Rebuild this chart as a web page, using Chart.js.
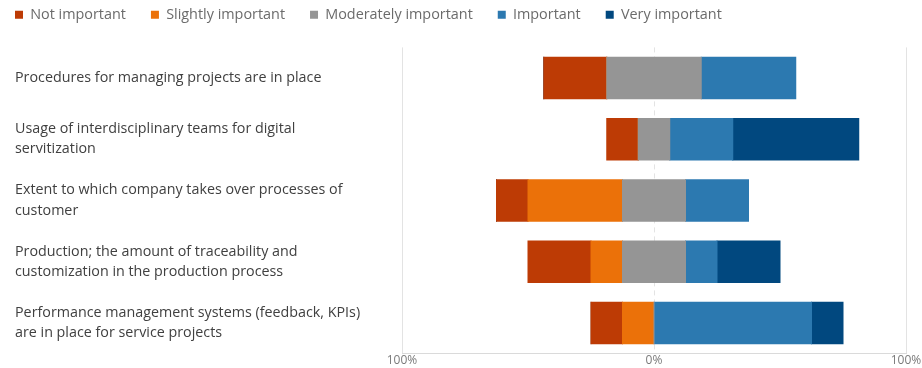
<!DOCTYPE html>
<html>
<head>
<meta charset="utf-8">
<script src="https://cdn.jsdelivr.net/npm/chart.js@4/dist/chart.umd.min.js"></script>
<style>
    body { margin: 0; background: #ffffff; }
    #wrap { width: 922px; height: 368px; position: relative; }
</style>
</head>
<body>
<div id="wrap"><canvas id="likert-chart"></canvas></div>
<script>
// Statements (y axis), wrapped as in the original
const statements = [
    ["Procedures for managing projects are in place"],
    ["Usage of interdisciplinary teams for digital", "servitization"],
    ["Extent to which company takes over processes of", "customer"],
    ["Production; the amount of traceability and", "customization in the production process"],
    ["Performance management systems (feedback, KPIs)", "are in place for service projects"]
];

// Share of answers per statement, in %
const notImportant = [25, 12.5, 12.5, 25, 12.5];
const slightlyImportant = [0, 0, 37.5, 12.5, 12.5];
const moderatelyImportant = [37.5, 12.5, 25, 25, 0];
const important = [37.5, 25, 25, 12.5, 62.5];
const veryImportant = [0, 50, 0, 25, 12.5];

const axisTicks = [-100, 0, 100];

const colors = {
    not: "#BD3B05",
    slightly: "#EB7109",
    moderately: "#959595",
    important: "#2C79B0",
    very: "#01487F"
};

document.addEventListener("DOMContentLoaded", function () {
    drawChart();
});

function drawChart() {
    // Negative side: first dataset sits next to zero, so order is neutral half, slightly, not
    const neutralHalf = moderatelyImportant.map(v => v / 2);

    const datasets = [
        { label: "Moderately important", data: neutralHalf.map(v => -v), backgroundColor: colors.moderately, rank: 2 },
        { label: "Slightly important", data: slightlyImportant.map(v => -v), backgroundColor: colors.slightly, rank: 1 },
        { label: "Not important", data: notImportant.map(v => -v), backgroundColor: colors.not, rank: 0 },
        { label: "Moderately important", data: neutralHalf, backgroundColor: colors.moderately, rank: 2, noLegend: true },
        { label: "Important", data: important, backgroundColor: colors.important, rank: 3 },
        { label: "Very important", data: veryImportant, backgroundColor: colors.very, rank: 4 }
    ];
    datasets.forEach(ds => {
        ds.stack = "answers";
        ds.borderWidth = 0;
        ds.inflateAmount = 0.5; // no seams between segments
        ds.barPercentage = 0.675;
        ds.categoryPercentage = 1;
    });

    // nudge the legend so the first box starts at the left margin
    const legendShift = {
        id: "legendShift",
        afterLayout(chart) {
            chart.legend.left -= 25;
            chart.legend.top -= 15.5;
        }
    };

    const ctx = document.getElementById("likert-chart").getContext("2d");
    new Chart(ctx, {
        type: "bar",
        data: { labels: statements, datasets: datasets },
        plugins: [legendShift],
        options: {
            indexAxis: "y",
            responsive: true,
            maintainAspectRatio: false,
            animation: false,
            layout: { padding: { left: 15, right: 16, top: -2, bottom: 0 } },
            plugins: {
                tooltip: { enabled: false },
                legend: {
                    position: "top",
                    align: "start",
                    labels: {
                        boxWidth: 8,
                        boxHeight: 8,
                        padding: 25,
                        color: "#6b6b6b",
                        font: { family: "Open Sans", size: 14.4 },
                        filter: (item, data) => !data.datasets[item.datasetIndex].noLegend,
                        sort: (a, b, data) => data.datasets[a.datasetIndex].rank - data.datasets[b.datasetIndex].rank
                    }
                }
            },
            scales: {
                x: {
                    stacked: true,
                    min: -100,
                    max: 100,
                    afterBuildTicks: scale => { scale.ticks = axisTicks.map(v => ({ value: v })); },
                    ticks: {
                        padding: 0,
                        color: "#7a7a7a",
                        font: { family: "Open Sans", size: 12 },
                        maxRotation: 0,
                        callback: v => Math.abs(v) + "%"
                    },
                    grid: { color: "#e3e3e3", drawTicks: false, lineWidth: 1 },
                    border: {
                        display: true,
                        color: "#dadada",
                        dash: c => (c.tick && c.tick.value === 0 ? [5, 4] : [])
                    }
                },
                y: {
                    stacked: true,
                    afterFit: scale => { scale.width = 387; },
                    ticks: {
                        crossAlign: "far",
                        color: "#404040",
                        font: { family: "Open Sans", size: 14.3, lineHeight: 1.42 }
                    },
                    grid: { display: false },
                    border: { display: false }
                }
            }
        }
    });
}
</script>
</body>
</html>
